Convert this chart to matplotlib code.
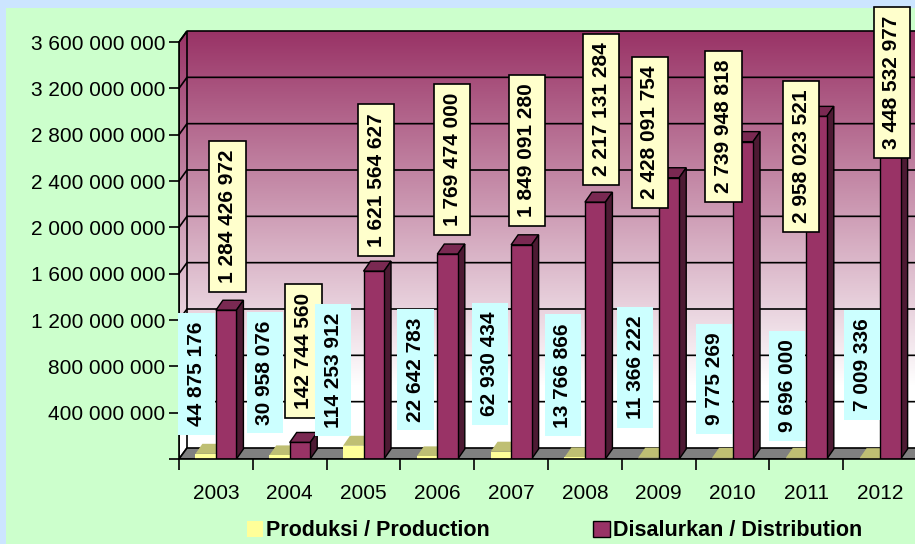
import matplotlib.pyplot as plt
import numpy as np
from matplotlib.patches import Polygon, Rectangle, Patch

plt.rcParams['font.family'] = ['Liberation Sans', 'DejaVu Sans']

years = ['2003', '2004', '2005', '2006', '2007', '2008', '2009', '2010', '2011', '2012']
produksi = [44875176, 30958076, 114253912, 22642783, 62930434,
            13766866, 11366222, 9775269, 9696000, 7009336]
disalurkan = [1284426972, 142744560, 1621564627, 1769474000, 1849091280,
              2217131284, 2428091754, 2739948818, 2958023521, 3448532977]
y_ticks = [0, 400000000, 800000000, 1200000000, 1600000000, 2000000000,
           2400000000, 2800000000, 3200000000, 3600000000]

# hand placed data labels: offset from category centre, height in value units
prod_lab_dx = [-0.263, -0.335, -0.41, -0.295, -0.286, -0.297, -0.32, -0.25, -0.26, -0.245]
prod_lab_y = [0.734e9, 0.747e9, 0.768e9, 0.773e9, 0.824e9, 0.721e9, 0.790e9, 0.691e9, 0.630e9, 0.811e9]
dist_lab_dx = [0.157, 0.19, 0.17, 0.2, 0.215, 0.22, -0.12, -0.12, -0.07, 0.16]
dist_lab_y = [2.094e9, 0.932e9, 2.409e9, 2.586e9, 2.663e9, 3.017e9, 2.819e9, 2.870e9, 2.611e9, 3.250e9]

plum = '#993366'
fig = plt.figure(figsize=(9.15, 5.44), dpi=100)
fig.patch.set_facecolor('#CCE5FF')
fig.add_artist(Rectangle((6 / 915, 0), 1, 536 / 544, transform=fig.transFigure,
                         fc='#CCFFCC', ec='none', zorder=-10))

ax = fig.add_axes([179 / 915, 85 / 544, 738 / 915, 428 / 544])
ax.patch.set_visible(False)
ymax = 3.6e9
px = ymax / 417.0           # one pixel in value units
top = ymax + 11 * px

# wall depth and bar depth
DX, DY = 8 / 73.8, 11 * px
dx, dy = 7 / 73.8, 10 * px

# back wall + side wall gradient
t = np.linspace(0, 1, 256)
t = np.clip(t / 0.85, 0, 1)
c0 = np.array([153, 51, 102]) / 255
grad = c0[None, :] * (1 - t[:, None]) + t[:, None]
grad = grad[:, None, :]
ax.imshow(grad, extent=[-0.5 + DX, 9.5 + DX, DY, top], aspect='auto', zorder=0,
          interpolation='bilinear')
side = Polygon([(-0.5, 0), (-0.5 + DX, DY), (-0.5 + DX, top), (-0.5, ymax)],
               closed=True, fc='none', ec='black', lw=1.2, zorder=1)
ax.add_patch(side)
im = ax.imshow(grad, extent=[-0.5, -0.5 + DX, 0, top], aspect='auto', zorder=0.5,
               interpolation='bilinear')
im.set_clip_path(side)
ax.set_xlim(-0.5, 9.5)
ax.set_ylim(0, top)

# gridlines on the walls
for v in y_ticks[1:]:
    ax.plot([-0.5, -0.5 + DX, 9.6 + DX], [v, v + DY, v + DY], color='black', lw=1.2,
            zorder=1, clip_on=False)

# floor
floor = Polygon([(-0.5, 0), (9.6, 0), (9.6 + DX, DY), (-0.5 + DX, DY)], closed=True,
                fc='#808080', ec='black', lw=1.2, zorder=1)
ax.add_patch(floor)

x = np.arange(len(years))
w = 0.278


def bar3d(rects, vals, topc, sidec, ec, base_z):
    for i, (r, v) in enumerate(zip(rects, vals)):
        xl = r.get_x()
        z = base_z + i * 0.1
        r.set_zorder(z + 0.01)
        ax.add_patch(Polygon([(xl, v), (xl + w, v), (xl + w + dx, v + dy), (xl + dx, v + dy)],
                             closed=True, fc=topc, ec=ec, lw=1, zorder=z))
        ax.add_patch(Polygon([(xl + w, 0), (xl + w + dx, dy), (xl + w + dx, v + dy), (xl + w, v)],
                             closed=True, fc=sidec, ec=ec, lw=1, zorder=z))


pb = ax.bar(x - w, produksi, width=w, align='edge', color='#FFFF99', edgecolor='none')
bar3d(pb, produksi, '#BFBF73', '#99994D', 'none', 3)
db = ax.bar(x, disalurkan, width=w, align='edge', color=plum, edgecolor='black', linewidth=1)
bar3d(db, disalurkan, '#7A2952', '#4D1A33', 'black', 3.02)


def fmt(v):
    return f'{v:,}'.replace(',', ' ')


for i in range(len(years)):
    ax.text(i + prod_lab_dx[i], prod_lab_y[i], fmt(produksi[i]), rotation=90,
            ha='center', va='center', fontsize=15, fontweight='bold', zorder=10,
            bbox=dict(boxstyle='square,pad=0.42', fc='#CCFFFF', ec='none'))
    ax.text(i + dist_lab_dx[i], dist_lab_y[i], fmt(disalurkan[i]), rotation=90,
            ha='center', va='center', fontsize=15, fontweight='bold', zorder=10,
            bbox=dict(boxstyle='square,pad=0.42', fc='#FFFFCC', ec='black', lw=1.2))

# axes
for s in ['top', 'right']:
    ax.spines[s].set_visible(False)
ax.spines['left'].set_bounds(0, ymax)
ax.spines['left'].set_linewidth(1.2)
ax.spines['bottom'].set_linewidth(1.2)
ax.spines['bottom'].set_zorder(20)
ax.set_yticks(y_ticks)
ax.set_yticklabels([''] + [fmt(v) for v in y_ticks[1:]])
ax.tick_params(axis='y', length=7, width=1.2, pad=3, labelsize=15)
ax.set_xticks(x)
ax.set_xticklabels(years)
ax.set_xticks(np.arange(-0.5, 10, 1), minor=True)
ax.tick_params(axis='x', which='major', length=0, pad=18, labelsize=15)
ax.tick_params(axis='x', which='minor', length=8, width=1.2)

handles = [Patch(fc='#FFFF99', ec='none', label='Produksi / Production'),
           Patch(fc=plum, ec='black', label='Disalurkan / Distribution')]
fig.legend(handles=handles, loc='center', bbox_to_anchor=(554.5 / 915, 13 / 544), ncol=2,
           frameon=False, prop={'weight': 'bold', 'size': 15.5}, handlelength=0.75,
           handleheight=0.75, handletextpad=0.15, columnspacing=4.8)

fig.savefig('out.png', dpi=100, facecolor=fig.get_facecolor())
